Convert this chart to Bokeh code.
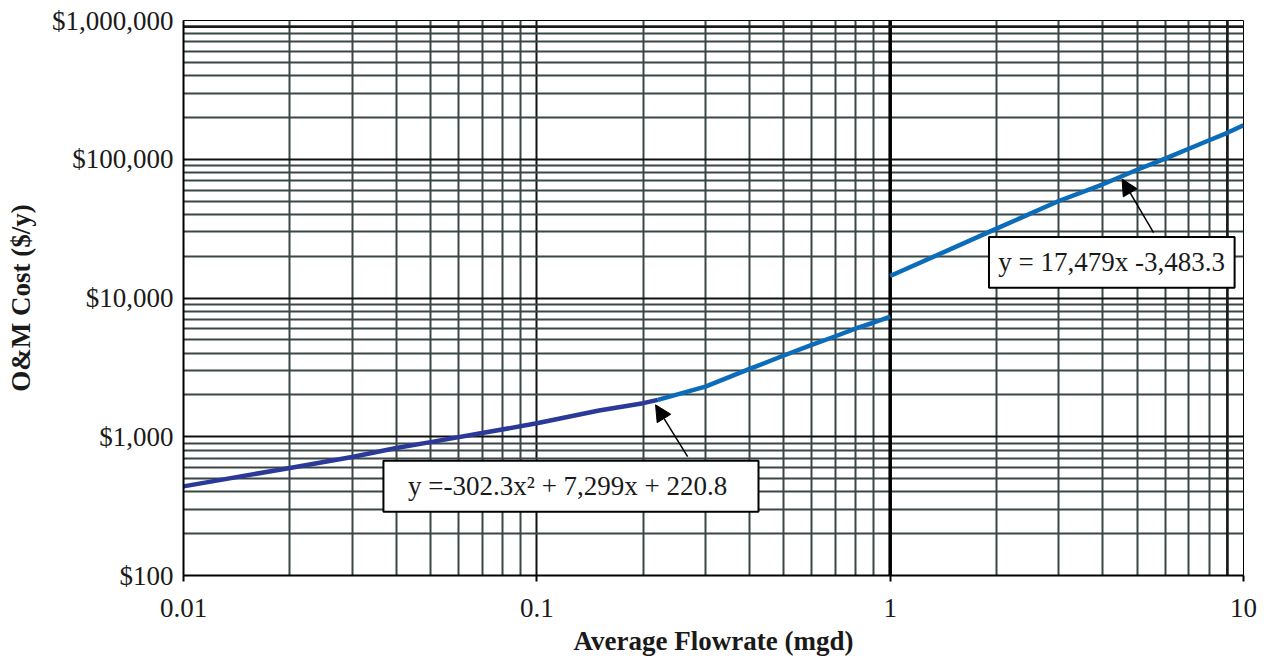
from bokeh.plotting import figure
from bokeh.models import (FixedTicker, Span, BoxAnnotation, Label, Arrow, NormalHead)
from bokeh.embed import file_html
from bokeh.resources import INLINE

# ---- data ----
flow_low = [0.01, 0.02, 0.03, 0.04, 0.05, 0.07, 0.1, 0.15, 0.2, 0.22]
cost_low = [439, 596, 714, 830, 915, 1063, 1250, 1545, 1746, 1845]

flow_mid = [0.22, 0.3, 0.4, 0.5, 0.6, 0.7, 0.8, 0.9, 1.0]
cost_mid = [1845, 2300, 3080, 3850, 4600, 5300, 6030, 6660, 7340]

flow_high = [1, 2, 3, 4, 5, 6, 7, 8, 9, 10]
cost_high = [14390, 31600, 50000, 66000, 84000, 101000, 119000, 137000, 155000, 176000]

x_major = [0.01, 0.1, 1, 10]
x_labels = ["0.01", "0.1", "1", "10"]
y_major = [100, 1000, 10000, 100000, 1000000]
y_labels = ["$100", "$1,000", "$10,000", "$100,000", "$1,000,000"]

eq_low = "y =-302.3x\u00b2  + 7,299x + 220.8"
eq_high = "y = 17,479x -3,483.3"

x_minor = [m * d for d in [0.01, 0.1, 1] for m in range(2, 10)]
y_minor = [m * d for d in [100, 1000, 10000, 100000] for m in range(2, 10)]

FONT = "Liberation Serif"
GRID = "#3b4646"

p = figure(width=1263, height=658, x_axis_type="log", y_axis_type="log",
           x_range=(0.01, 10), y_range=(100, 1000000),
           output_backend="svg", toolbar_location=None,
           min_border_left=183, min_border_right=20, min_border_top=20,
           min_border_bottom=82)
p.background_fill_color = "white"
p.border_fill_color = "white"
p.outline_line_color = "black"
p.outline_line_width = 1

# axes
p.xaxis.ticker = FixedTicker(ticks=x_major, minor_ticks=x_minor)
p.yaxis.ticker = FixedTicker(ticks=y_major, minor_ticks=y_minor)
p.xaxis.major_label_overrides = dict(zip(x_major, x_labels))
p.yaxis.major_label_overrides = dict(zip(y_major, y_labels))
for ax in (p.xaxis, p.yaxis):
    ax.major_label_text_font = FONT
    ax.major_label_text_font_size = "27px"
    ax.major_label_text_color = "#1a1a1a"
    ax.axis_line_color = "black"
    ax.axis_line_width = 2
    ax.minor_tick_in = 0
    ax.minor_tick_out = 0
    ax.major_tick_in = 0
    ax.axis_label_text_font = FONT
    ax.axis_label_text_font_size = "27px"
    ax.axis_label_text_font_style = "bold"
    ax.axis_label_text_color = "#1a1a1a"
p.xaxis.axis_label = "Average Flowrate (mgd)"
p.yaxis.axis_label = "O&M Cost ($/y)"
p.xaxis.major_tick_out = 6
p.xaxis.major_tick_line_color = "black"
p.xaxis.major_tick_line_width = 2
p.xaxis.major_label_standoff = 17
p.xaxis.axis_label_standoff = 6
p.yaxis.major_tick_out = 0
p.yaxis.major_label_standoff = 10
p.yaxis.axis_label_standoff = 13

# grids
for g in (p.xgrid, p.ygrid):
    g.grid_line_color = "#111111"
    g.grid_line_width = 2
    g.grid_line_alpha = 1
    g.minor_grid_line_color = GRID
    g.minor_grid_line_width = 2
    g.minor_grid_line_alpha = 1

# emphasised lines of the original chart
p.add_layout(Span(location=1, dimension="height", line_color="black", line_width=3.5, level="underlay"))
p.add_layout(Span(location=9, dimension="height", line_color="#1a1a1a", line_width=2.5, level="underlay"))
p.add_layout(Span(location=900000, dimension="width", line_color="#1a1a1a", line_width=2.5, level="underlay"))

# series
p.line(flow_low, cost_low, line_color="#2b3a98", line_width=4.5)
p.line(flow_mid, cost_mid, line_color="#0b6cb9", line_width=4.5)
p.line(flow_high, cost_high, line_color="#0b6cb9", line_width=4.5)

# equation boxes
p.add_layout(BoxAnnotation(left=0.0368, right=0.424, bottom=288.6, top=671,
                           fill_color="white", fill_alpha=1, line_color="black",
                           line_width=2, line_alpha=1))
p.add_layout(Label(x=0.125, y=444, text=eq_low, text_font=FONT, text_font_size="27px",
                   text_align="center", text_baseline="middle", text_color="#1a1a1a"))
p.add_layout(BoxAnnotation(left=1.904, right=9.437, bottom=11860, top=27560,
                           fill_color="white", fill_alpha=1, line_color="black",
                           line_width=2, line_alpha=1))
p.add_layout(Label(x=4.233, y=18160, text=eq_high, text_font=FONT, text_font_size="27px",
                   text_align="center", text_baseline="middle", text_color="#1a1a1a"))

# arrows
head = dict(size=16, fill_color="black", line_color="black")
p.add_layout(Arrow(end=NormalHead(**head), x_start=0.2672, y_start=718, x_end=0.2168, y_end=1698,
                   line_color="black", line_width=1.5))
p.add_layout(Arrow(end=NormalHead(**head), x_start=5.565, y_start=29600, x_end=4.533, y_end=72040,
                   line_color="black", line_width=1.5))

open("out.html", "w").write(file_html(p, INLINE))
